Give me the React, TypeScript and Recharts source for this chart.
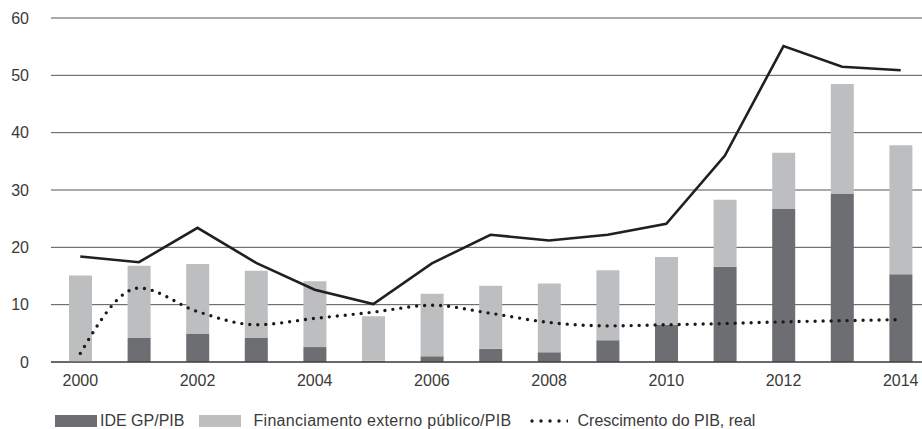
import React from "react";
import {
  ComposedChart,
  Bar,
  Line,
  XAxis,
  YAxis,
  CartesianGrid,
  Legend,
} from "recharts";

// values (% of GDP)
const years = [
  "2000", "2001", "2002", "2003", "2004", "2005", "2006", "2007",
  "2008", "2009", "2010", "2011", "2012", "2013", "2014",
];
const ideGp = [0, 4.2, 4.9, 4.2, 2.6, 0.2, 1.0, 2.3, 1.7, 3.8, 6.5, 16.6, 26.7, 29.4, 15.3];
const financiamento = [15.1, 12.6, 12.2, 11.7, 11.5, 7.8, 10.9, 11.0, 12.0, 12.2, 11.8, 11.7, 9.8, 19.1, 22.5];
const linhaSolida = [18.4, 17.4, 23.4, 17.3, 12.6, 10.1, 17.2, 22.2, 21.2, 22.2, 24.1, 36.0, 55.1, 51.5, 50.9];
const crescimento = [1.5, 12.9, 8.8, 6.5, 7.6, 8.7, 9.9, 8.5, 6.9, 6.3, 6.5, 6.7, 7.0, 7.2, 7.4];
const yTicks = [0, 10, 20, 30, 40, 50, 60];

const DARK = "#6d6e71";
const LIGHT = "#bcbec0";
const TEXT = "#3a3a3a";
const FONT = '"Liberation Sans", Arial, sans-serif';

const chartData = years.map((year, i) => ({
  year,
  ide: ideGp[i],
  fin: financiamento[i],
  solida: linhaSolida[i],
  cresc: crescimento[i],
}));

const tickStyle = { fill: TEXT, fontSize: 16, fontFamily: FONT };

const Swatch = ({ color }: { color: string }) => (
  <span style={{ display: "inline-block", width: 42, height: 12, background: color }} />
);

const LegendContent = () => (
  <div
    style={{
      height: 30,
      display: "flex",
      alignItems: "flex-end",
      paddingLeft: 55,
      fontFamily: FONT,
      fontSize: 16,
      color: TEXT,
      boxSizing: "border-box",
    }}
  >
    <div style={{ display: "flex", alignItems: "center", height: 16, lineHeight: "16px" }}>
      <Swatch color={DARK} />
      <span style={{ marginLeft: 3, marginRight: 15 }}>IDE GP/PIB</span>
      <Swatch color={LIGHT} />
      <span style={{ marginLeft: 12, marginRight: 18, letterSpacing: 0.3 }}>
        Financiamento externo público/PIB
      </span>
      <svg width={38} height={12}>
        {[0, 1, 2, 3, 4].map((k) => (
          <circle key={k} cx={2 + k * 9} cy={6} r={1.7} fill="#1a1a1a" />
        ))}
      </svg>
      <span style={{ marginLeft: 10 }}>Crescimento do PIB, real</span>
    </div>
  </div>
);

export default function App() {
  return (
    <div
      style={{
        position: "absolute",
        left: 0,
        top: 0,
        width: 922,
        height: 429,
        overflow: "hidden",
        background: "#fff",
      }}
    >
      <ComposedChart
        width={930}
        height={429}
        data={chartData}
        margin={{ top: 18, right: 0, bottom: 0, left: 0 }}
        style={{ fontFamily: FONT }}
      >
        <CartesianGrid vertical={false} stroke="#555" strokeWidth={1} />
        <XAxis
          dataKey="year"
          interval={1}
          tickLine={false}
          tickSize={0}
          tickMargin={13}
          height={37}
          axisLine={{ stroke: "#2a2a2a", strokeWidth: 1.2 }}
          tick={tickStyle}
        />
        <YAxis
          domain={[0, 60]}
          ticks={yTicks}
          width={51}
          axisLine={false}
          tickLine={false}
          tickSize={0}
          tickMargin={22}
          tick={tickStyle}
        />
        <Legend content={<LegendContent />} wrapperStyle={{ margin: 0, padding: 0 }} />
        <Bar dataKey="ide" name="IDE GP/PIB" stackId="a" fill={DARK} barSize={23} isAnimationActive={false} />
        <Bar
          dataKey="fin"
          name="Financiamento externo público/PIB"
          stackId="a"
          fill={LIGHT}
          barSize={23}
          isAnimationActive={false}
        />
        <Line
          dataKey="solida"
          type="linear"
          stroke="#231f20"
          strokeWidth={2.6}
          dot={false}
          activeDot={false}
          legendType="none"
          isAnimationActive={false}
        />
        <Line
          dataKey="cresc"
          name="Crescimento do PIB, real"
          type="monotone"
          stroke="#1a1a1a"
          strokeWidth={3.4}
          strokeDasharray="0 8"
          strokeLinecap="round"
          dot={false}
          activeDot={false}
          isAnimationActive={false}
        />
      </ComposedChart>
    </div>
  );
}
